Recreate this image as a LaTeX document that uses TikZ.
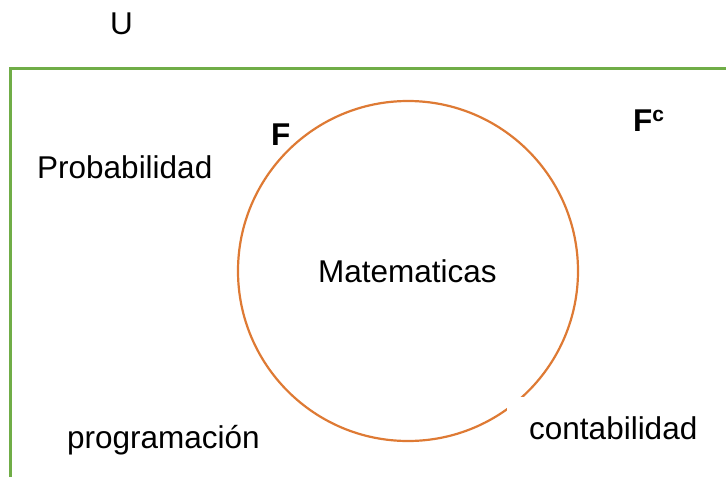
\documentclass[tikz,border=0pt]{standalone}
\usepackage{fontspec}
\setmainfont{Liberation Sans}
\begin{document}
\begin{tikzpicture}[x=1pt,y=-1pt,
  lbl/.style={anchor=base west,inner sep=0pt,font=\fontsize{31.5}{36}\selectfont},
  setlbl/.style={anchor=base west,inner sep=0pt,font=\fontsize{31.5}{36}\selectfont\bfseries}]
\definecolor{ugreen}{RGB}{112,173,71}
\definecolor{forange}{RGB}{222,122,52}
\useasboundingbox (0,0) rectangle (726,477);
\coordinate (ul) at (10,68);
\coordinate (bl) at (10,477);
\coordinate (tr) at (727,68);
\draw[draw=ugreen,line width=3pt] (bl) -- (ul) -- (tr);
\node[circle,draw=forange,line width=2.2pt,minimum size=340pt,inner sep=0pt] (F) at (408,271) {};
\fill[white] (507,397) rectangle (715,465);
\node[lbl] (U) at (110,34) {U};
\node[lbl] (prob) at (37,178) {Probabilidad};
\node[setlbl] (Flab) at (271,145) {F};
\node[setlbl] (Fc) at (633,131) {F\textsuperscript{\fontsize{21}{24}\selectfont\bfseries c}};
\node[lbl] (mat) at (318,282) {Matematicas};
\node[lbl] (prog) at (67,448) {programación};
\node[lbl] (cont) at (529,439) {contabilidad};
\end{tikzpicture}
\end{document}
